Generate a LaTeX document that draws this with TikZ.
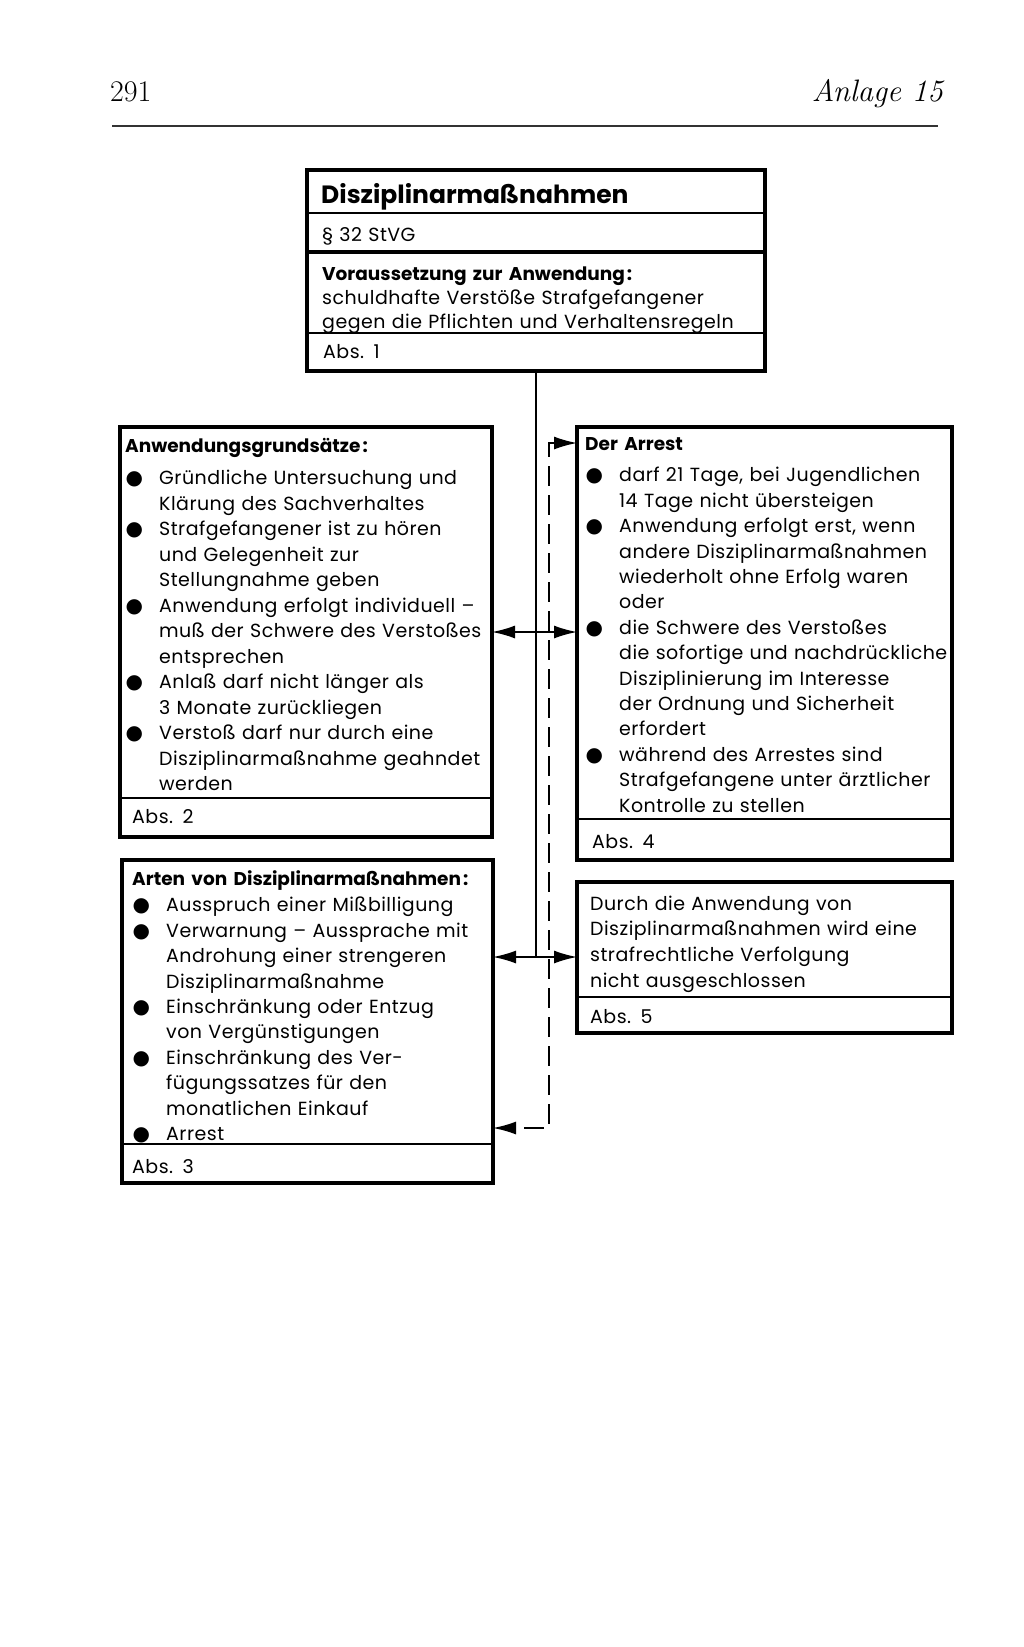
\documentclass[tikz,border=0pt]{standalone}
\usepackage{fontspec}
\usetikzlibrary{arrows.meta}
\newfontfamily\boxsans[LetterSpace=2.5]{Poppins}
\newfontfamily\boxhead{Poppins}
\newfontfamily\bulfont{DejaVu Sans}
\newlength\bind
\setlength\bind{34pt}
\newcommand\bitem[1]{\par\noindent\hangindent=\bind\hangafter=1\makebox[\bind][l]{\hspace{0.5pt}{\bulfont\fontsize{20}{20}\selectfont ●}}#1\par}
\newcommand\hd[1]{{\boxhead\bfseries\fontsize{18.5}{25}\selectfont #1}}
\tikzset{
  boxo/.style={draw, line width=3.5pt, anchor=north west, inner sep=0pt, outer sep=0pt},
  div/.style={line width=1.8pt},
  conn/.style={line width=1.6pt},
  tips/.style={{Latex[length=23pt,width=13pt]}-{Latex[length=23pt,width=13pt]}},
  dashline/.style={dash pattern=on 20pt off 9pt},
  txt/.style={anchor=base west, inner sep=0pt, text width=#1, align=left,
    font=\boxsans\fontsize{19}{25.5}\selectfont},
}
\begin{document}
\begin{tikzpicture}[x=1pt,y=-1pt]
\useasboundingbox[fill=white] (0,0) rectangle (1024,1647);

% header
\node[anchor=base west, inner sep=0pt, font=\fontsize{30}{32}\selectfont] (pg) at (110,101) {291};
\node[anchor=base east, inner sep=0pt, font=\itshape\fontsize{31}{33}\selectfont] (an) at (943,101) {Anlage 15};
\draw[line width=1.3pt, black!80] (112,126) -- (938,126);

% top box
\node[boxo, minimum width=458pt, minimum height=201pt] (b0) at (307,170) {};
\draw[line width=2.5pt] (b0.west |- 0,213) -- (b0.east |- 0,213);
\draw[line width=3.5pt] (b0.west |- 0,252) -- (b0.east |- 0,252);
\draw[div] (b0.west |- 0,333) -- (b0.east |- 0,333);
\node[txt=430pt, font=\boxhead\bfseries\fontsize{25}{28}\selectfont] (t0) at (321,203) {Disziplinarmaßnahmen};
\node[txt=430pt] (t1) at (322,241) {§ 32 StVG};
\node[txt=440pt, font=\boxsans\fontsize{19}{24}\selectfont] (t2) at (322,280)
  {\hd{Voraussetzung zur Anwendung\kern2pt:}\newline schuldhafte Verstöße Strafgefangener\newline gegen die Pflichten und Verhaltensregeln\par};
\node[txt=200pt] (t3) at (323,358) {Abs. 1};

% left box 1
\node[boxo, minimum width=372pt, minimum height=410pt] (b1) at (120,427) {};
\draw[div] (b1.west |- 0,798) -- (b1.east |- 0,798);
\node[txt=440pt] (t4) at (125,452) {\hd{Anwendungsgrundsätze\kern2pt:}\par\vspace{7pt}%
\bitem{Gründliche Untersuchung und\newline Klärung des Sachverhaltes}
\bitem{Strafgefangener ist zu hören\newline und Gelegenheit zur\newline Stellungnahme geben}
\bitem{Anwendung erfolgt individuell –\newline muß der Schwere des Verstoßes\newline entsprechen}
\bitem{Anlaß darf nicht länger als\newline 3 Monate zurückliegen}
\bitem{Verstoß darf nur durch eine\newline Disziplinarmaßnahme geahndet\newline werden}};
\node[txt=200pt] (t5) at (132,823) {Abs. 2};

% right box: Der Arrest
\node[boxo, minimum width=375pt, minimum height=433pt] (b2) at (577,427) {};
\draw[div] (b2.west |- 0,819) -- (b2.east |- 0,819);
\node[txt=440pt, font=\boxsans\fontsize{19}{25.4}\selectfont] (t6) at (585,450) {\hd{Der Arrest}\par\vspace{6.5pt}%
\bitem{darf 21 Tage, bei Jugendlichen\newline 14 Tage nicht übersteigen}
\bitem{Anwendung erfolgt erst, wenn\newline andere Disziplinarmaßnahmen\newline wiederholt ohne Erfolg waren\newline oder}
\bitem{die Schwere des Verstoßes\newline die sofortige und nachdrückliche\newline Disziplinierung im Interesse\newline der Ordnung und Sicherheit\newline erfordert}
\bitem{während des Arrestes sind\newline Strafgefangene unter ärztlicher\newline Kontrolle zu stellen}};
\node[txt=200pt] (t7) at (592,848) {Abs. 4};

% left box 2: Arten
\node[boxo, minimum width=371pt, minimum height=323pt] (b3) at (122,860) {};
\draw[div] (b3.west |- 0,1144) -- (b3.east |- 0,1144);
\node[txt=440pt, font=\boxsans\fontsize{19}{25.4}\selectfont] (t8) at (132,885) {\hd{Arten von Disziplinarmaßnahmen\kern2pt:}\par\vspace{1.5pt}%
\bitem{Ausspruch einer Mißbilligung}
\bitem{Verwarnung – Aussprache mit\newline Androhung einer strengeren\newline Disziplinarmaßnahme}
\bitem{Einschränkung oder Entzug\newline von Vergünstigungen}
\bitem{Einschränkung des Ver-\newline fügungssatzes für den\newline monatlichen Einkauf}
\bitem{Arrest}};
\node[txt=200pt] (t9) at (132,1173) {Abs. 3};

% right box 2: Abs. 5
\node[boxo, minimum width=375pt, minimum height=151pt] (b4) at (577,882) {};
\draw[div] (b4.west |- 0,997) -- (b4.east |- 0,997);
\node[txt=440pt, font=\boxsans\fontsize{19}{25.7}\selectfont] (t10) at (590,910)
  {Durch die Anwendung von\newline Disziplinarmaßnahmen wird eine\newline strafrechtliche Verfolgung\newline nicht ausgeschlossen\par};
\node[txt=200pt] (t11) at (590,1023) {Abs. 5};

% connectors
\coordinate (j1) at (b0.south |- 0,632);
\coordinate (j2) at (b0.south |- 0,957);
\coordinate (d1) at (549,443);
\coordinate (d2) at (549,1128);
\draw[conn] (b0.south) -- (j2);
\draw[conn, tips] (b1.east |- j1) -- (b2.west |- j1);
\draw[conn, tips] (b3.east |- j2) -- (b4.west |- j2);
\draw[conn, dashline, tips] (b2.west |- d1) -- (d1) -- (d2) -- (b3.east |- d2);
\end{tikzpicture}
\end{document}
